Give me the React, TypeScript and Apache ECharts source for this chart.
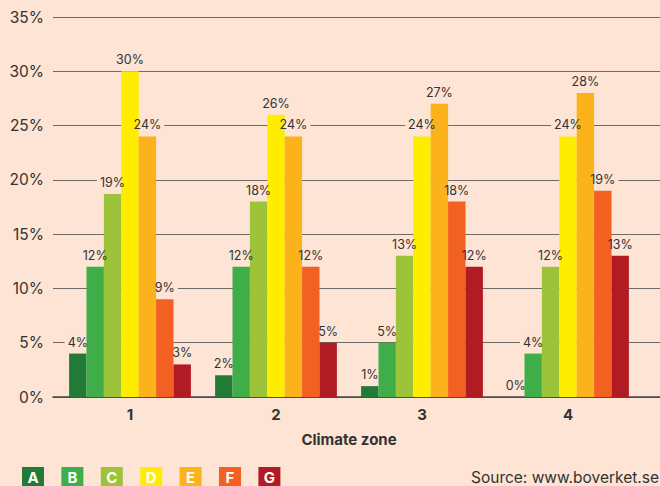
import React, { useEffect, useRef } from "react";
import * as echarts from "echarts";

const zones = ["1", "2", "3", "4"];
const classes = ["A", "B", "C", "D", "E", "F", "G"];
const classColors = ["#217a35", "#3fae49", "#9dc33b", "#ffed00", "#fbb21b", "#f26122", "#b11c24"];
const valuesA = [4, 2, 1, 0];
const valuesB = [12, 12, 5, 4];
const valuesC = [18.7, 18, 13, 12];
const valuesD = [30, 26, 24, 24];
const valuesE = [24, 24, 27, 28];
const valuesF = [9, 12, 18, 19];
const valuesG = [3, 5, 12, 13];
const seriesValues = [valuesA, valuesB, valuesC, valuesD, valuesE, valuesF, valuesG];
const yTicks = [0, 5, 10, 15, 20, 25, 30, 35];

const BG = "#fde4d4";
const FONT = "Inter, 'Noto Sans', sans-serif";
const BAR_W = 17.4;

export default function App() {
  const ref = useRef<HTMLDivElement>(null);
  useEffect(() => {
    document.body.style.margin = "0";
    document.body.style.background = BG;
    const chart = echarts.init(ref.current!, null, { renderer: "svg" });
    const labelBase = (textColor: string, bg: string) => ({
      show: true,
      position: "top",
      distance: 4,
      formatter: (p: any) => Math.round(p.value) + "%",
      fontFamily: FONT,
      fontSize: 12.5,
      color: textColor,
      backgroundColor: bg,
      padding: [1, 3],
    });
    // label backgrounds (beneath the bars)
    const bgSeries: any[] = seriesValues.map((vals, i) => ({
      type: "bar",
      name: classes[i] + "-bg",
      xAxisIndex: 2,
      yAxisIndex: 2,
      data: vals,
      barWidth: BAR_W,
      barGap: "0%",
      itemStyle: { color: "rgba(0,0,0,0)" },
      label: labelBase("rgba(0,0,0,0)", BG),
      z: 3,
      silent: true,
    }));
    const barSeries: any[] = seriesValues.map((vals, i) => ({
      type: "bar",
      name: classes[i],
      xAxisIndex: 1,
      yAxisIndex: 1,
      data: vals,
      barWidth: BAR_W,
      barGap: "0%",
      itemStyle: { color: classColors[i] },
      label: { show: false },
      z: 5,
    }));
    // label texts (above the bars)
    const textSeries: any[] = seriesValues.map((vals, i) => ({
      type: "bar",
      name: classes[i] + "-text",
      xAxisIndex: 3,
      yAxisIndex: 3,
      data: vals,
      barWidth: BAR_W,
      barGap: "0%",
      itemStyle: { color: "rgba(0,0,0,0)" },
      label: labelBase("#333", "transparent"),
      z: 7,
      silent: true,
    }));
    const legendItems: any[] = [];
    classes.forEach((c, i) => {
      const x0 = 22 + i * 39.4;
      legendItems.push({
        type: "rect",
        left: x0,
        top: 467,
        shape: { width: 22, height: 22 },
        style: { fill: classColors[i] },
      });
      legendItems.push({
        type: "text",
        x: x0 + 11,
        y: 477,
        style: {
          text: c,
          fill: "#fff",
          font: `bold 15px ${FONT}`,
          align: "center",
          verticalAlign: "middle",
        },
      });
    });
    legendItems.push({
      type: "text",
      right: 1,
      top: 469,
      style: {
        text: "Source: www.boverket.se",
        fill: "#333",
        font: `15.5px ${FONT}`,
      },
    });
    const plotGrid = { left: 57, right: 19, top: 17, bottom: 89 };
    const hiddenCat = (gi: number) => ({
      gridIndex: gi,
      type: "category",
      data: zones,
      show: false,
    });
    const hiddenVal = (gi: number) => ({
      gridIndex: gi,
      type: "value",
      min: yTicks[0],
      max: yTicks[yTicks.length - 1],
      interval: 5,
      show: false,
      splitLine: { show: false },
    });
    chart.setOption({
      animation: false,
      backgroundColor: BG,
      grid: [
        { left: 53, right: 0, top: 17, bottom: 89 },
        plotGrid,
        plotGrid,
        plotGrid,
      ],
      xAxis: [
        {
          gridIndex: 0,
          type: "value",
          min: 0,
          max: 1,
          axisLabel: { show: false },
          axisTick: { show: false },
          splitLine: { show: false },
          axisLine: { show: true, lineStyle: { color: "#444", width: 1.5 } },
        },
        {
          gridIndex: 1,
          type: "category",
          data: zones,
          axisLine: { show: false },
          axisTick: { show: false },
          axisLabel: {
            margin: 10,
            fontFamily: FONT,
            fontSize: 15,
            fontWeight: "bold",
            color: "#333",
          },
          name: "Climate zone",
          nameLocation: "middle",
          nameGap: 35,
          nameTextStyle: {
            fontFamily: FONT,
            fontSize: 15,
            fontWeight: "bold",
            color: "#333",
          },
        },
        hiddenCat(2),
        hiddenCat(3),
      ],
      yAxis: [
        {
          gridIndex: 0,
          type: "value",
          min: yTicks[0],
          max: yTicks[yTicks.length - 1],
          interval: 5,
          axisLine: { show: false },
          axisTick: { show: false },
          axisLabel: {
            margin: 9,
            formatter: (v: number) => v + "%",
            fontFamily: FONT,
            fontSize: 15.5,
            color: "#333",
          },
          splitLine: { show: true, lineStyle: { color: "#6e6a68", width: 1.2 } },
        },
        hiddenVal(1),
        hiddenVal(2),
        hiddenVal(3),
      ],
      graphic: legendItems,
      series: [...bgSeries, ...barSeries, ...textSeries],
    });
    return () => chart.dispose();
  }, []);
  return <div ref={ref} style={{ width: 660, height: 486 }} />;
}
